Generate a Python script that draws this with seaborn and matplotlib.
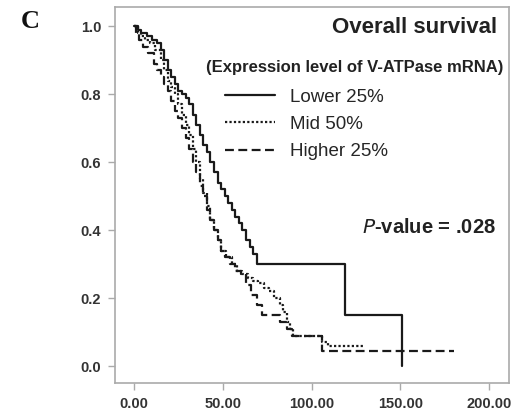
import matplotlib
matplotlib.use("Agg")
from matplotlib import pyplot as plt
import seaborn as sns
import pandas as pd

# Kaplan-Meier steps (months, cumulative survival)
time_lower = [0, 2, 4, 7, 10, 13, 15, 17, 19, 21, 23, 25, 27, 29, 31, 33, 35, 37, 39, 41,
              43, 45, 47, 49, 51, 53, 55, 57, 59, 61, 63, 65, 67, 69, 118.5, 151]
surv_lower = [1.0, 0.99, 0.98, 0.97, 0.96, 0.95, 0.93, 0.90, 0.87, 0.85, 0.83, 0.81, 0.80, 0.79,
              0.77, 0.74, 0.71, 0.68, 0.65, 0.63, 0.60, 0.57, 0.54, 0.52, 0.50, 0.48, 0.46, 0.44,
              0.42, 0.40, 0.37, 0.35, 0.33, 0.30, 0.15, 0.0]

time_mid = [0, 2, 4, 6, 9, 12, 15, 17, 19, 21, 23, 25, 27, 29, 31, 33, 35, 37, 39, 41, 43, 45,
            47, 49, 52, 55, 58, 61, 64, 67, 70, 73, 76, 79, 82, 84, 86, 88, 89.5, 106, 109, 129]
surv_mid = [1.0, 0.98, 0.97, 0.96, 0.95, 0.93, 0.90, 0.87, 0.84, 0.82, 0.80, 0.77, 0.74, 0.71,
            0.68, 0.64, 0.60, 0.55, 0.51, 0.47, 0.43, 0.40, 0.37, 0.34, 0.32, 0.30, 0.28, 0.27,
            0.26, 0.25, 0.245, 0.23, 0.22, 0.20, 0.18, 0.16, 0.13, 0.11, 0.09, 0.07, 0.06, 0.06]

time_high = [0, 1, 3, 5, 8, 11, 13, 15, 17, 19, 21, 23, 25, 27, 29, 31, 33, 35, 37, 39, 41, 43,
             45, 47, 49, 51, 54, 57, 60, 63, 66, 69, 72, 82, 86, 89, 106, 180]
surv_high = [1.0, 0.98, 0.96, 0.94, 0.92, 0.89, 0.87, 0.85, 0.83, 0.81, 0.78, 0.75, 0.73, 0.70,
             0.67, 0.64, 0.60, 0.57, 0.53, 0.50, 0.46, 0.43, 0.40, 0.37, 0.34, 0.32, 0.30, 0.28,
             0.27, 0.24, 0.21, 0.18, 0.15, 0.13, 0.11, 0.09, 0.045, 0.045]

groups = ["Lower 25%", "Mid 50%", "Higher 25%"]
x_ticks = [0, 50, 100, 150, 200]
y_ticks = [0.0, 0.2, 0.4, 0.6, 0.8, 1.0]

df = pd.concat([
    pd.DataFrame({"time": time_lower, "survival": surv_lower, "group": groups[0]}),
    pd.DataFrame({"time": time_mid, "survival": surv_mid, "group": groups[1]}),
    pd.DataFrame({"time": time_high, "survival": surv_high, "group": groups[2]}),
])

sns.set_style("white")
plt.rcParams["font.family"] = ["Liberation Sans", "DejaVu Sans"]

fig = plt.figure(figsize=(5.16, 4.16), dpi=100)
ax = fig.add_axes([0.223, 0.079, 0.763, 0.904])

sns.lineplot(data=df, x="time", y="survival", style="group", style_order=groups,
             dashes={groups[0]: "", groups[1]: (1, 1), groups[2]: (4, 2)},
             color="#1a1a1a", drawstyle="steps-post", estimator=None, sort=False,
             linewidth=1.6, ax=ax)

ax.set_xlim(-10.7, 211)
ax.set_ylim(-0.05, 1.056)
ax.set_xticks(x_ticks)
ax.set_xticklabels([f"{v:.2f}" for v in x_ticks])
ax.set_yticks(y_ticks)
ax.set_yticklabels([f"{v:.1f}" for v in y_ticks])
ax.set_xlabel("")
ax.set_ylabel("")
for s in ax.spines.values():
    s.set_color("#aaaaaa")
    s.set_linewidth(1.2)
ax.tick_params(axis="both", direction="out", length=5, width=1, color="#aaaaaa",
               labelsize=10.5, labelcolor="#333333", bottom=True, left=True, pad=5)
for lab in ax.get_xticklabels() + ax.get_yticklabels():
    lab.set_fontweight("bold")

handles, labels = ax.get_legend_handles_labels()
ax.legend(handles, labels, loc="upper left", bbox_to_anchor=(0.436, 0.7875),
          bbox_transform=fig.transFigure, frameon=False, fontsize=13.5,
          handlelength=2.67, handletextpad=0.8, labelspacing=0.55,
          borderpad=0, borderaxespad=0)

fig.text(0.963, 0.935, "Overall survival", ha="right", va="center",
         fontsize=16, fontweight="bold", color="#222222")
fig.text(0.976, 0.837, "(Expression level of V-ATPase mRNA)", ha="right", va="center",
         fontsize=12, fontweight="bold", color="#222222")
fig.text(0.96, 0.452, r"$\mathbf{\it{P}}$-value = .028", ha="right", va="center",
         fontsize=14.5, fontweight="bold", color="#222222")
fig.text(0.04, 0.948, "C", ha="left", va="center", fontsize=19, fontweight="bold",
         family="Liberation Serif", color="#111111")

fig.savefig("out.png", dpi=100)
